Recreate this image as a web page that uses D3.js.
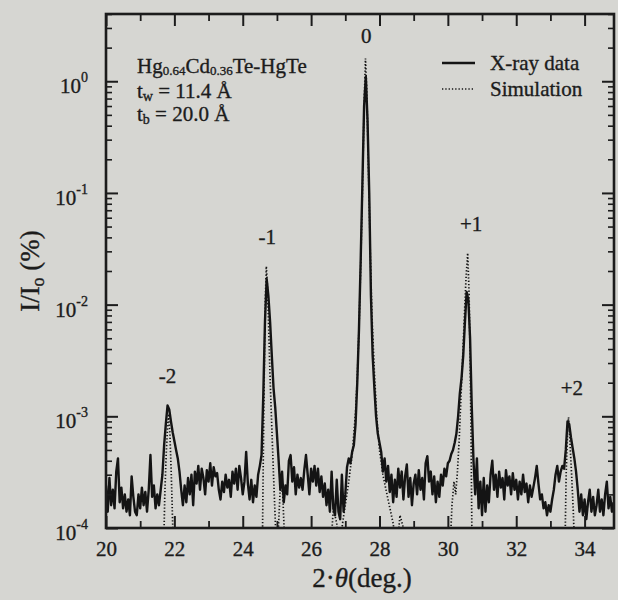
<!DOCTYPE html>
<html>
<head>
<meta charset="utf-8">
<script src="https://cdn.jsdelivr.net/npm/d3@7"></script>
<style>
body{margin:0;background:#d6d6d2;}
svg{display:block;}
text{font-family:"Liberation Serif","DejaVu Serif",serif;fill:#1c1c1c;stroke:#1c1c1c;stroke-width:0.35px;}
</style>
</head>
<body>
<svg></svg>
<script>
// scan: 2theta from 20.00 deg in 0.05 deg steps, intensity in %
var scanStart = 20;
var scanStep = 0.05;
var xrayIntensity = [
 2.4e-4,1.4e-4,2.8e-4,1.6e-4,2.2e-4,1.5e-4,3.2e-4,4.2e-4,1.7e-4,2.3e-4,1.5e-4,2.0e-4,1.4e-4,1.8e-4,1.3e-4,2.9e-4,1.9e-4,1.4e-4,1.3e-4,2.0e-4,
 1.5e-4,2.3e-4,1.6e-4,2.1e-4,1.4e-4,2.2e-4,4.5e-4,1.9e-4,2.4e-4,1.5e-4,2.0e-4,1.6e-4,2.2e-4,3.0e-4,5.5e-4,8.5e-4,1.25e-3,1.15e-3,9.0e-4,7.2e-4,
 6.0e-4,5.0e-4,4.2e-4,3.2e-4,2.2e-4,1.6e-4,2.4e-4,1.7e-4,2.8e-4,2.0e-4,3.0e-4,1.6e-4,3.2e-4,2.5e-4,3.6e-4,2.2e-4,3.4e-4,2.8e-4,2.0e-4,3.3e-4,
 2.6e-4,3.8e-4,2.4e-4,3.5e-4,2.9e-4,3.1e-4,2.2e-4,1.8e-4,2.6e-4,2.1e-4,3.0e-4,2.3e-4,2.7e-4,1.9e-4,3.2e-4,2.5e-4,3.4e-4,2.2e-4,3.6e-4,2.8e-4,
 2.0e-4,2.6e-4,4.8e-4,2.5e-4,1.8e-4,2.7e-4,1.7e-4,2.4e-4,1.9e-4,3.0e-4,3.6e-4,4.5e-4,1.5e-3,7.0e-3,1.7e-2,1.2e-2,7.0e-3,3.5e-3,1.8e-3,1.2e-3,
 7.0e-4,4.0e-4,2.2e-4,3.2e-4,1.7e-4,2.4e-4,2.0e-4,4.0e-4,4.5e-4,2.6e-4,3.5e-4,2.0e-4,3.0e-4,2.3e-4,2.8e-4,2.2e-4,3.3e-4,4.5e-4,3.0e-4,2.0e-4,
 3.4e-4,2.6e-4,3.6e-4,2.4e-4,3.4e-4,2.1e-4,2.9e-4,1.9e-4,2.5e-4,1.6e-4,2.2e-4,1.4e-4,3.2e-4,1.5e-4,1.3e-4,2.7e-4,1.4e-4,1.2e-4,3.0e-4,1.4e-4,
 2.0e-4,3.5e-4,4.2e-4,3.8e-4,4.8e-4,5.5e-4,8.5e-4,2.0e-3,6.0e-3,2.5e-2,0.12,0.6,1.1,0.45,0.1,1.2e-2,3.5e-3,1.8e-3,1.0e-3,7.0e-4,
 5.8e-4,4.8e-4,3.2e-4,4.2e-4,2.6e-4,3.6e-4,2.1e-4,3.0e-4,1.7e-4,2.7e-4,1.9e-4,3.4e-4,2.3e-4,3.2e-4,1.8e-4,2.9e-4,3.7e-4,1.9e-4,2.8e-4,1.6e-4,
 2.5e-4,3.0e-4,2.0e-4,3.3e-4,2.2e-4,2.8e-4,1.8e-4,3.8e-4,4.4e-4,2.6e-4,3.2e-4,2.0e-4,2.9e-4,1.7e-4,2.6e-4,1.9e-4,3.0e-4,2.4e-4,3.4e-4,2.9e-4,
 3.8e-4,4.0e-4,4.6e-4,5.0e-4,5.8e-4,7.0e-4,1.0e-3,1.6e-3,2.2e-3,3.5e-3,7.0e-3,1.3e-2,1.1e-2,5.0e-3,1.2e-3,4.0e-4,2.0e-4,4.2e-4,1.5e-4,2.6e-4,
 1.3e-4,2.8e-4,1.4e-4,2.4e-4,1.7e-4,3.0e-4,4.0e-4,2.2e-4,3.0e-4,1.9e-4,3.2e-4,2.3e-4,2.8e-4,1.8e-4,3.3e-4,2.4e-4,2.9e-4,2.0e-4,3.1e-4,2.2e-4,
 2.7e-4,1.8e-4,2.6e-4,2.0e-4,3.0e-4,2.1e-4,2.5e-4,1.7e-4,2.4e-4,1.9e-4,2.3e-4,2.8e-4,3.6e-4,2.5e-4,1.8e-4,2.0e-4,1.5e-4,1.7e-4,1.3e-4,1.6e-4,
 1.4e-4,1.8e-4,2.2e-4,3.0e-4,3.6e-4,2.6e-4,3.2e-4,3.6e-4,3.4e-4,5.0e-4,9.0e-4,8.5e-4,6.5e-4,5.2e-4,4.2e-4,3.2e-4,2.2e-4,1.4e-4,2.0e-4,1.3e-4,
 1.8e-4,1.2e-4,1.7e-4,2.2e-4,1.4e-4,1.9e-4,1.3e-4,1.6e-4,2.2e-4,1.4e-4,1.8e-4,1.3e-4,2.0e-4,2.6e-4,1.5e-4,1.9e-4,1.4e-4,1.7e-4
];

var simAngles = [
 21.68,21.72,21.76,21.80,21.83,21.87,21.91,21.95,21.98,
 24.57,24.60,24.63,24.66,24.69,24.72,24.76,24.80,24.85,24.90,24.95,25.00,25.10,25.17,25.25,
 26.55,26.65,26.75,26.82,26.92,27.00,27.10,27.20,27.30,27.35,27.40,27.45,27.50,27.55,27.59,27.63,27.68,27.73,27.78,27.85,27.92,28.00,28.10,28.25,28.40,28.50,28.60,28.70,28.78,
 30.05,30.12,30.18,30.23,30.28,30.33,30.38,30.43,30.48,30.53,30.58,30.62,30.65,30.68,30.71,
 33.42,33.46,33.50,33.53,33.57,33.62,33.67,33.72
];
var simValues = [
 5e-5,2.0e-4,4.5e-4,8.0e-4,1.05e-3,7.0e-4,3.0e-4,1.1e-4,5e-5,
 5e-5,4e-4,2.5e-3,1.1e-2,2.2e-2,1.5e-2,6e-3,2.2e-3,8e-4,3e-4,1.2e-4,5e-5,2.4e-4,2.0e-4,5e-5,
 5e-5,1.5e-4,1.1e-4,6e-5,1.1e-4,1.6e-4,2.6e-4,4.5e-4,1.1e-3,2.2e-3,6e-3,2.2e-2,0.1,0.6,1.6,0.8,0.15,3e-2,8e-3,2.5e-3,1.0e-3,5e-4,3e-4,1.8e-4,1.1e-4,6e-5,1.3e-4,1.0e-4,5e-5,
 5e-5,1.6e-4,2.6e-4,2.0e-4,3.2e-4,6e-4,1.4e-3,3.2e-3,7.5e-3,1.7e-2,2.9e-2,1.3e-2,3.5e-3,6e-4,5e-5,
 5e-5,3e-4,7e-4,9.8e-4,6e-4,3e-4,1.4e-4,5e-5
];

var peakLabels = ["-2","-1","0","+1","+2"];
var peakAngles = [21.80,24.72,27.61,30.68,33.63];

var xMajorTicks = [20,22,24,26,28,30,32,34];
var xMinorTicks = [21,23,25,27,29,31,33];
var yMajorTicks = [1e-4,1e-3,1e-2,1e-1,1e0];
var yExponents = ["-4","-3","-2","-1","0"];

var legendNames = ["X-ray data","Simulation"];

var screen = {width:618,height:600}
var margins = {left:106,right:4,top:14,bottom:72}
var graph = {
    width:screen.width-margins.left-margins.right,
    height:screen.height-margins.top-margins.bottom
}

var svg = d3.select("svg")
    .attr("width",screen.width)
    .attr("height",screen.height)

var xScale = d3.scaleLinear()
    .domain([20,34.86])
    .range([0,graph.width])

var yScale = d3.scaleLog()
    .domain([1e-4,4])
    .range([graph.height,0])

var target = svg.append("g")
    .attr("transform","translate("+margins.left+","+margins.top+")")

target.append("clipPath")
    .attr("id","plotclip")
    .append("rect")
    .attr("width",graph.width)
    .attr("height",graph.height)

// lines
var xrayPoints = xrayIntensity.map(function(v,i){
    return {angle:scanStart+i*scanStep, value:v}
})
var simPoints = simAngles.map(function(a,i){
    return {angle:a, value:simValues[i]}
})

var lineGenerator = d3.line()
    .x(function(d){return xScale(d.angle)})
    .y(function(d){return yScale(d.value)})

var plot = target.append("g").attr("clip-path","url(#plotclip)")

plot.append("path")
    .datum(xrayPoints)
    .attr("d",lineGenerator)
    .attr("fill","none")
    .attr("stroke","#141414")
    .attr("stroke-width",2.4)
    .attr("stroke-linejoin","round")

plot.append("path")
    .datum(simPoints)
    .attr("d",lineGenerator)
    .attr("fill","none")
    .attr("stroke","#141414")
    .attr("stroke-width",1.7)
    .attr("stroke-dasharray","1.3,2")

// axes, ticks pointing inward
var addAxis = function(axis,transform,width)
{
    var g = target.append("g")
        .attr("transform",transform)
        .call(axis)
    g.select(".domain").remove()
    g.selectAll("line").attr("stroke","#1c1c1c").attr("stroke-width",width)
    return g
}

addAxis(d3.axisBottom(xScale).tickValues(xMajorTicks).tickSize(-12).tickPadding(13)
    .tickFormat(function(d){return d}),
    "translate(0,"+graph.height+")",2)
    .selectAll("text").attr("font-size",21).attr("font-family",null).attr("fill",null)
addAxis(d3.axisBottom(xScale).tickValues(xMinorTicks).tickSize(-7).tickFormat(""),
    "translate(0,"+graph.height+")",1.8)
addAxis(d3.axisTop(xScale).tickValues(xMajorTicks).tickSize(-12).tickFormat(""),"translate(0,0)",2)
addAxis(d3.axisTop(xScale).tickValues(xMinorTicks).tickSize(-7).tickFormat(""),"translate(0,0)",1.8)

var yMinor = yScale.ticks().filter(function(v){
    return yMajorTicks.indexOf(v)<0
})
addAxis(d3.axisLeft(yScale).tickValues(yMajorTicks).tickSize(-12).tickFormat(""),"translate(0,0)",2)
addAxis(d3.axisLeft(yScale).tickValues(yMinor).tickSize(-6).tickFormat(""),"translate(0,0)",1.6)
addAxis(d3.axisRight(yScale).tickValues(yMajorTicks).tickSize(-12).tickFormat(""),
    "translate("+graph.width+",0)",2)
addAxis(d3.axisRight(yScale).tickValues(yMinor).tickSize(-6).tickFormat(""),
    "translate("+graph.width+",0)",1.6)

target.append("rect")
    .attr("width",graph.width)
    .attr("height",graph.height)
    .attr("fill","none")
    .attr("stroke","#1c1c1c")
    .attr("stroke-width",2.6)

// y tick labels 10^n
var yLabels = target.append("g")
    .selectAll("text")
    .data(yMajorTicks)
    .enter()
    .append("text")
    .attr("x",-18)
    .attr("y",function(d){return yScale(d)+12})
    .attr("text-anchor","end")
    .attr("font-size",21)
yLabels.append("tspan").text("10")
yLabels.append("tspan")
    .attr("font-size",14)
    .attr("dy",-11)
    .text(function(d,i){return yExponents[i]})

// peak order labels
var peakTop = function(angle)
{
    var near = xrayPoints.concat(simPoints).filter(function(p){
        return Math.abs(p.angle-angle)<0.15
    })
    return d3.max(near,function(p){return p.value})
}
target.append("g")
    .selectAll("text")
    .data(peakLabels)
    .enter()
    .append("text")
    .attr("x",function(d,i){return xScale(peakAngles[i])})
    .attr("y",function(d,i){return Math.max(yScale(peakTop(peakAngles[i]))-22,29)})
    .attr("text-anchor","middle")
    .attr("font-size",21)
    .text(function(d){return d})

// sample annotation
var note = svg.append("g").attr("font-size",21)
var line1 = note.append("text").attr("x",137).attr("y",73)
line1.append("tspan").text("Hg")
line1.append("tspan").attr("font-size",13).attr("dy",2).text("0.64")
line1.append("tspan").attr("dy",-2).text("Cd")
line1.append("tspan").attr("font-size",13).attr("dy",2).text("0.36")
line1.append("tspan").attr("dy",-2).text("Te-HgTe")
var line2 = note.append("text").attr("x",137).attr("y",98)
line2.append("tspan").text("t")
line2.append("tspan").attr("font-size",14).attr("dy",3).text("w")
line2.append("tspan").attr("dy",-3).text(" = 11.4 Å")
var line3 = note.append("text").attr("x",137).attr("y",121)
line3.append("tspan").text("t")
line3.append("tspan").attr("font-size",14).attr("dy",3).text("b")
line3.append("tspan").attr("dy",-3).text(" = 20.0 Å")

// legend
var legend = svg.append("g")
    .selectAll("g")
    .data(legendNames)
    .enter()
    .append("g")
    .attr("transform",function(d,i){return "translate(442,"+(63+i*26)+")"})
legend.append("line")
    .attr("x1",0).attr("x2",33)
    .attr("stroke","#141414")
    .attr("stroke-width",function(d,i){return i==0?2.4:1.7})
    .attr("stroke-dasharray",function(d,i){return i==0?null:"1.3,2"})
legend.append("text")
    .attr("x",48).attr("y",7)
    .attr("font-size",21)
    .text(function(d){return d})

// axis titles
var xTitle = svg.append("text")
    .attr("x",margins.left+graph.width/2+2)
    .attr("y",587)
    .attr("text-anchor","middle")
    .attr("font-size",27)
xTitle.append("tspan").text("2·")
xTitle.append("tspan").attr("font-style","italic").text("θ")
xTitle.append("tspan").text("(deg.)")

var yTitle = svg.append("text")
    .attr("transform","translate(39,271) rotate(-90)")
    .attr("text-anchor","middle")
    .attr("font-size",27)
yTitle.append("tspan").text("I/I")
yTitle.append("tspan").attr("font-size",18).attr("dy",5).text("o")
yTitle.append("tspan").attr("dy",-5).text(" (%)")
</script>
</body>
</html>
